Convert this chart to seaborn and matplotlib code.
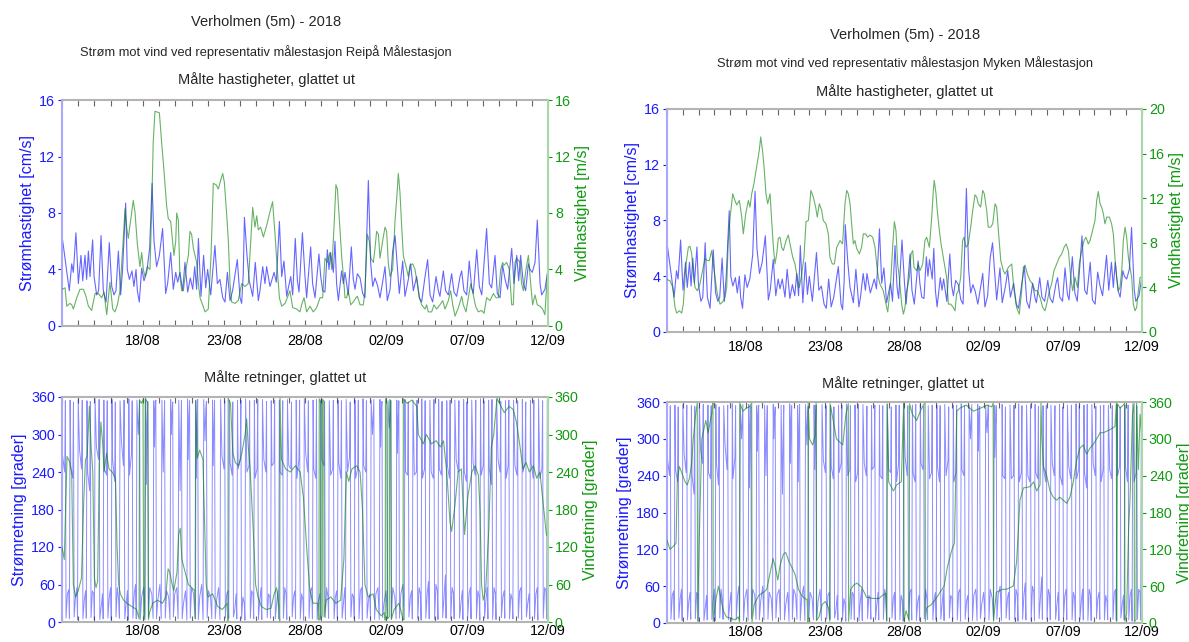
import pandas as pd
import matplotlib
matplotlib.use("Agg")
import matplotlib.pyplot as plt
import matplotlib.dates as mdates
import seaborn as sns

sns.set_theme(style="white")
plt.rcParams['font.family'] = ['Liberation Sans', 'DejaVu Sans']

START = pd.Timestamp("2018-08-13")
END = pd.Timestamp("2018-09-12")
tick_dates = pd.to_datetime(["2018-08-18", "2018-08-23", "2018-08-28",
                             "2018-09-02", "2018-09-07", "2018-09-12"])

# current speed at Verholmen 5m (same in both panels), days since 13/08
cur_speed_day = [
    0.00, 0.45, 0.60, 0.70, 0.86, 1.01, 1.17, 1.28, 1.42, 1.52, 1.63, 1.73, 1.89, 1.98, 2.14, 2.26, 2.41, 2.55, 2.72, 2.92,
    3.07, 3.21, 3.33, 3.48, 3.62, 3.74, 3.93, 4.03, 4.16, 4.32, 4.44, 4.57, 4.65, 4.77, 4.92, 5.06, 5.23, 5.41, 5.56, 5.68,
    5.84, 6.01, 6.21, 6.40, 6.52, 6.71, 6.87, 7.02, 7.14, 7.28, 7.45, 7.59, 7.76, 7.92, 8.07, 8.19, 8.31, 8.42, 8.58, 8.74,
    8.87, 8.99, 9.18, 9.44, 9.59, 9.75, 9.92, 10.06, 10.21, 10.37, 10.53, 10.82, 10.99, 11.09, 11.19, 11.26, 11.42, 11.56, 11.77, 11.93,
    12.12, 12.22, 12.39, 12.53, 12.63, 12.84, 13.09, 13.23, 13.42, 13.56, 13.70, 13.87, 13.99, 14.12, 14.24, 14.40, 14.53, 14.63, 14.84, 15.00,
    15.10, 15.35, 15.47, 15.62, 15.86, 15.97, 16.09, 16.23, 16.38, 16.48, 16.58, 16.75, 16.85, 16.95, 17.06, 17.26, 17.37, 17.47, 17.67, 17.86,
    17.98, 18.09, 18.23, 18.40, 18.56, 18.70, 18.91, 19.05, 19.18, 19.32, 19.47, 19.63, 19.79, 19.94, 20.08, 20.25, 20.41, 20.56, 20.70, 20.82,
    21.03, 21.17, 21.38, 21.52, 21.69, 21.89, 22.06, 22.20, 22.41, 22.57, 22.72, 22.88, 23.09, 23.23, 23.33, 23.54, 23.68, 23.85, 24.05, 24.20,
    24.36, 24.57, 24.67, 24.81, 24.98, 25.14, 25.29, 25.39, 25.60, 25.76, 25.91, 26.21, 26.38, 26.52, 26.73, 26.87, 27.04, 27.20, 27.35, 27.51,
    27.76, 27.90, 28.07, 28.19, 28.31, 28.48, 28.62, 28.79, 28.89, 29.03, 29.20, 29.34, 29.51, 29.61, 29.81, 30.00]
cur_speed = [
    6.4, 2.5, 4.4, 3.8, 6.6, 3.0, 5.0, 3.2, 5.0, 3.3, 5.3, 3.5, 6.1, 3.5, 2.2, 2.5, 6.4, 2.5, 1.7, 5.9,
    2.8, 2.2, 2.5, 5.3, 2.2, 4.0, 8.7, 4.0, 3.3, 3.9, 2.8, 4.0, 2.5, 1.7, 4.1, 3.2, 3.8, 5.5, 10.1, 6.0,
    4.2, 5.0, 6.9, 2.3, 3.0, 5.2, 2.6, 3.8, 3.1, 3.8, 2.5, 4.5, 2.4, 3.4, 2.6, 4.2, 2.6, 6.2, 2.1, 5.0,
    2.7, 4.0, 2.2, 5.7, 3.0, 3.3, 2.0, 1.7, 3.8, 1.8, 2.5, 4.7, 2.0, 1.6, 3.7, 7.7, 5.0, 3.2, 2.1, 4.5,
    1.8, 2.5, 4.2, 3.0, 4.2, 2.8, 3.8, 3.1, 7.4, 3.5, 4.6, 2.1, 2.8, 3.5, 2.2, 6.2, 3.2, 2.4, 6.6, 3.5,
    2.0, 5.6, 3.0, 2.0, 5.1, 3.5, 2.5, 2.4, 5.4, 4.0, 5.2, 3.8, 6.0, 3.0, 1.8, 3.9, 3.0, 3.8, 2.2, 5.6,
    3.3, 2.6, 3.7, 3.4, 2.3, 2.0, 10.3, 4.5, 2.8, 3.4, 2.9, 2.0, 3.1, 4.2, 1.8, 2.6, 5.3, 6.4, 4.2, 2.3,
    4.6, 2.1, 3.3, 4.4, 2.5, 3.5, 2.0, 1.7, 3.5, 4.7, 2.2, 1.7, 3.5, 2.5, 2.1, 3.9, 2.5, 2.2, 3.7, 2.4,
    2.1, 3.5, 3.9, 2.5, 2.2, 4.6, 2.7, 2.3, 5.4, 2.8, 2.2, 6.9, 3.0, 2.7, 5.0, 2.3, 2.0, 4.3, 3.3, 2.6,
    5.5, 3.0, 5.0, 3.2, 5.0, 3.0, 2.5, 4.4, 4.0, 3.8, 4.5, 7.5, 3.0, 2.2, 2.6, 4.0]

# wind speed, Reipå
reipa_speed_day = [
    0.00, 0.19, 0.29, 0.49, 0.60, 0.70, 0.91, 1.11, 1.32, 1.48, 1.63, 1.83, 2.04, 2.24, 2.45, 2.59, 2.76, 2.96, 3.13, 3.27,
    3.42, 3.58, 3.79, 3.89, 3.99, 4.09, 4.24, 4.40, 4.51, 4.65, 4.81, 4.92, 5.02, 5.12, 5.27, 5.43, 5.53, 5.63, 5.74, 6.01,
    6.15, 6.26, 6.36, 6.46, 6.56, 6.71, 6.83, 6.91, 7.02, 7.08, 7.18, 7.28, 7.39, 7.49, 7.65, 7.80, 7.90, 8.00, 8.11, 8.31,
    8.42, 8.52, 8.68, 8.83, 9.03, 9.20, 9.34, 9.51, 9.65, 9.79, 9.92, 10.02, 10.16, 10.27, 10.37, 10.47, 10.68, 10.88, 11.09, 11.30,
    11.50, 11.65, 11.77, 11.91, 12.02, 12.12, 12.26, 12.43, 12.63, 12.84, 13.00, 13.15, 13.29, 13.42, 13.56, 13.77, 13.91, 14.07, 14.24, 14.49,
    14.69, 14.79, 14.94, 15.10, 15.31, 15.51, 15.72, 15.93, 16.09, 16.23, 16.38, 16.54, 16.65, 16.79, 16.91, 17.00, 17.12, 17.26, 17.37, 17.47,
    17.57, 17.67, 17.82, 17.98, 18.15, 18.23, 18.40, 18.60, 18.70, 18.85, 18.97, 19.07, 19.22, 19.32, 19.42, 19.53, 19.63, 19.79, 19.94, 20.04,
    20.14, 20.25, 20.41, 20.56, 20.66, 20.76, 20.86, 20.97, 21.07, 21.17, 21.28, 21.38, 21.48, 21.65, 21.79, 21.93, 22.06, 22.20, 22.41, 22.51,
    22.61, 22.82, 22.96, 23.13, 23.33, 23.50, 23.64, 23.85, 23.99, 24.12, 24.26, 24.47, 24.67, 24.77, 24.94, 25.08, 25.23, 25.39, 25.53, 25.70,
    25.90, 26.05, 26.21, 26.42, 26.63, 26.79, 26.93, 27.08, 27.20, 27.28, 27.45, 27.61, 27.76, 27.86, 27.96, 28.07, 28.27, 28.37, 28.48, 28.64,
    28.79, 28.93, 29.05, 29.20, 29.34, 29.51, 29.67, 29.81, 29.96]
reipa_speed = [
    2.6, 2.7, 1.4, 1.6, 1.5, 1.2, 2.0, 2.6, 2.6, 2.1, 1.4, 1.1, 2.3, 2.3, 2.0, 2.4, 0.8, 3.1, 1.2, 1.0,
    1.5, 2.5, 6.3, 8.3, 7.0, 6.2, 7.5, 8.9, 8.0, 5.8, 4.2, 5.2, 4.0, 3.5, 4.2, 4.0, 8.0, 13.0, 15.2, 15.1,
    13.0, 11.5, 10.0, 8.5, 7.6, 7.4, 6.0, 5.0, 6.0, 8.0, 7.5, 3.5, 2.5, 2.5, 4.0, 5.0, 6.7, 6.5, 5.5, 4.5,
    3.0, 2.0, 1.5, 1.0, 1.2, 5.0, 10.1, 10.0, 9.7, 10.3, 10.8, 10.2, 8.0, 6.0, 3.0, 1.7, 1.6, 1.8, 3.0, 2.8,
    3.0, 6.0, 8.4, 7.0, 7.8, 6.8, 7.0, 6.3, 7.1, 8.1, 8.8, 6.5, 4.0, 2.0, 1.4, 1.6, 2.0, 2.5, 1.3, 1.2,
    1.0, 1.5, 2.0, 1.0, 1.4, 1.0, 1.3, 2.0, 2.0, 4.8, 4.5, 5.2, 4.0, 7.0, 10.0, 9.7, 7.5, 5.0, 3.5, 2.0,
    2.0, 2.5, 1.5, 1.7, 2.0, 2.1, 1.5, 1.5, 2.5, 6.5, 6.0, 4.8, 4.5, 5.5, 6.7, 6.5, 4.8, 6.0, 7.0, 6.7,
    4.5, 3.5, 4.0, 7.5, 9.0, 10.8, 9.5, 7.0, 5.0, 4.5, 4.0, 3.5, 4.3, 4.4, 4.0, 3.0, 2.0, 1.5, 1.2, 1.5,
    1.0, 1.0, 1.5, 1.2, 1.5, 1.8, 1.2, 1.8, 2.5, 1.5, 0.7, 1.3, 2.1, 1.5, 1.0, 2.0, 3.0, 2.2, 1.4, 1.0,
    1.1, 0.9, 2.0, 1.8, 2.3, 2.0, 2.0, 4.0, 4.5, 4.3, 4.5, 4.0, 1.5, 1.5, 4.5, 4.8, 4.5, 3.0, 2.5, 4.0,
    5.0, 3.0, 1.5, 2.2, 1.5, 1.4, 1.2, 0.8, 3.7]

# wind speed, Myken
myken_speed_day = [
    0.00, 0.19, 0.36, 0.51, 0.61, 0.78, 0.93, 1.03, 1.20, 1.35, 1.45, 1.56, 1.66, 1.77, 1.92, 2.08, 2.25, 2.40, 2.55, 2.67,
    2.82, 3.03, 3.18, 3.35, 3.52, 3.66, 3.77, 3.87, 3.98, 4.15, 4.29, 4.40, 4.57, 4.72, 4.82, 4.97, 5.14, 5.24, 5.35, 5.49,
    5.66, 5.83, 5.92, 6.04, 6.13, 6.25, 6.36, 6.51, 6.61, 6.72, 6.82, 6.93, 7.03, 7.14, 7.24, 7.35, 7.52, 7.66, 7.77, 7.94,
    8.08, 8.23, 8.36, 8.51, 8.65, 8.78, 8.93, 9.09, 9.24, 9.39, 9.49, 9.62, 9.77, 9.87, 10.04, 10.19, 10.29, 10.44, 10.57, 10.72,
    10.93, 11.09, 11.24, 11.35, 11.45, 11.56, 11.66, 11.77, 11.87, 11.98, 12.15, 12.29, 12.40, 12.55, 12.67, 12.82, 12.99, 13.14, 13.24, 13.35,
    13.45, 13.66, 13.83, 13.94, 14.04, 14.13, 14.25, 14.36, 14.46, 14.57, 14.67, 14.82, 14.93, 15.03, 15.14, 15.31, 15.41, 15.52, 15.60, 15.77,
    15.87, 15.98, 16.15, 16.29, 16.40, 16.57, 16.72, 16.82, 16.88, 16.99, 17.07, 17.20, 17.31, 17.45, 17.56, 17.66, 17.77, 17.92, 18.08, 18.19,
    18.29, 18.40, 18.55, 18.67, 18.76, 18.88, 19.03, 19.18, 19.31, 19.45, 19.56, 19.66, 19.81, 19.94, 20.04, 20.19, 20.29, 20.44, 20.57, 20.72,
    20.82, 20.93, 21.08, 21.24, 21.35, 21.56, 21.77, 21.92, 22.08, 22.25, 22.40, 22.51, 22.61, 22.76, 22.93, 23.09, 23.24, 23.39, 23.56, 23.73,
    23.87, 23.98, 24.15, 24.29, 24.44, 24.61, 24.78, 24.93, 25.08, 25.21, 25.35, 25.50, 25.62, 25.77, 25.92, 26.04, 26.19, 26.34, 26.46, 26.61,
    26.72, 26.88, 27.03, 27.14, 27.24, 27.35, 27.45, 27.56, 27.66, 27.77, 27.94, 28.08, 28.19, 28.29, 28.40, 28.51, 28.61, 28.72, 28.82, 28.93,
    29.03, 29.14, 29.24, 29.35, 29.45, 29.56, 29.66, 29.77, 29.88, 30.00]
myken_speed = [
    4.7, 4.6, 4.0, 2.2, 1.7, 1.9, 1.7, 2.5, 6.1, 7.6, 7.7, 7.0, 5.2, 4.0, 3.7, 4.3, 5.5, 6.6, 6.4, 6.4,
    7.3, 4.9, 3.4, 2.5, 2.7, 3.1, 4.0, 8.2, 10.2, 12.4, 11.8, 11.4, 11.8, 10.3, 8.8, 10.6, 11.8, 11.2, 12.4, 13.3,
    14.8, 16.3, 17.5, 16.2, 14.8, 12.4, 11.5, 12.4, 10.0, 7.6, 6.1, 7.0, 8.4, 8.5, 7.6, 7.3, 8.2, 8.7, 7.9, 6.7,
    6.1, 4.9, 4.0, 5.2, 6.7, 9.9, 10.0, 12.7, 12.1, 11.2, 10.3, 11.5, 10.9, 10.0, 9.7, 8.8, 6.7, 6.1, 6.1, 7.6,
    8.2, 7.9, 11.5, 12.7, 12.4, 11.5, 9.7, 7.9, 8.2, 7.5, 7.0, 7.6, 8.8, 8.8, 8.5, 8.7, 8.5, 7.6, 6.1, 4.9,
    4.3, 3.7, 2.5, 1.8, 3.1, 4.6, 7.6, 9.9, 9.1, 6.1, 4.9, 2.5, 1.6, 2.2, 3.7, 4.9, 7.0, 7.3, 5.8, 5.5,
    6.1, 5.5, 6.1, 8.2, 8.5, 7.6, 10.3, 12.7, 13.6, 12.4, 10.9, 9.1, 7.9, 6.7, 5.8, 4.9, 2.5, 2.5, 2.2, 1.9,
    3.4, 3.7, 4.9, 8.2, 8.5, 7.6, 7.9, 9.4, 10.9, 12.3, 12.1, 11.5, 11.2, 12.7, 12.4, 10.9, 9.4, 9.4, 9.7, 11.5,
    11.2, 9.1, 6.4, 5.5, 5.2, 5.8, 6.1, 3.7, 2.2, 1.6, 3.7, 5.8, 6.0, 5.2, 4.6, 4.3, 3.7, 3.7, 3.1, 2.2,
    1.9, 2.5, 3.7, 4.3, 5.5, 6.1, 6.7, 7.0, 7.6, 7.9, 7.3, 4.9, 3.7, 4.9, 4.0, 6.1, 7.3, 8.2, 8.5, 7.9,
    8.2, 9.1, 10.0, 11.8, 12.6, 11.5, 11.2, 10.6, 9.7, 10.3, 10.3, 9.7, 8.8, 6.7, 4.9, 3.7, 4.0, 5.5, 8.2, 9.4,
    8.5, 6.7, 5.8, 4.9, 2.5, 1.9, 2.2, 3.7, 4.9, 4.9]

# current direction (same in both panels), hours since 13/08 00:00
cur_dir_hour = [
    0,
    1, 4, 5, 6, 8, 10, 11, 12,
    13, 16, 17, 18, 20, 22, 23, 24,
    26, 29, 30, 31, 33, 35, 36, 37,
    38, 41, 42, 43, 45, 47, 48, 49,
    51, 54, 55, 56, 58, 60, 61, 62,
    63, 66, 67, 68, 70, 72, 73, 74,
    75, 78, 79, 80, 82, 84, 85, 86,
    88, 91, 92, 93, 95, 97, 98, 99,
    100, 103, 104, 105, 107, 109, 110, 111,
    113, 114, 115, 116, 118, 121, 123, 124,
    125, 126, 127, 128, 130, 133, 135, 136,
    137, 138, 139, 140, 142, 145, 147, 148,
    150, 151, 152, 153, 155, 158, 160, 161,
    162, 163, 164, 165, 167, 170, 172, 173,
    175, 176, 177, 178, 180, 183, 185, 186,
    187, 188, 189, 190, 192, 195, 197, 198,
    199, 200, 201, 202, 204, 207, 209, 210,
    212, 213, 214, 215, 217, 220, 222, 223,
    224, 225, 226, 227, 229, 232, 234, 235,
    237, 240, 241, 242, 244, 246, 247, 248,
    249, 252, 253, 254, 256, 258, 259, 260,
    261, 264, 265, 266, 268, 270, 271, 272,
    274, 277, 278, 279, 281, 283, 284, 285,
    286, 289, 290, 291, 293, 295, 296, 297,
    299, 302, 303, 304, 306, 308, 309, 310,
    311, 314, 315, 316, 318, 320, 321, 322,
    323, 326, 327, 328, 330, 332, 333, 334,
    336, 339, 340, 341, 343, 345, 346, 347,
    348, 351, 352, 353, 355, 357, 358, 359,
    361, 364, 365, 366, 368, 370, 371, 372,
    373, 376, 377, 378, 380, 382, 383, 384,
    385, 388, 389, 390, 392, 394, 395, 396,
    398, 401, 402, 403, 405, 407, 408, 409,
    410, 413, 414, 415, 417, 419, 420, 421,
    423, 426, 427, 428, 430, 432, 433, 434,
    435, 438, 439, 440, 442, 444, 445, 446,
    447, 450, 451, 452, 454, 456, 457, 458,
    460, 461, 462, 463, 465, 468, 470, 471,
    472, 473, 474, 475, 477, 480, 482, 483,
    485, 486, 487, 488, 490, 493, 495, 496,
    497, 498, 499, 500, 502, 505, 507, 508,
    509, 512, 513, 514, 516, 518, 519, 520,
    522, 525, 526, 527, 529, 531, 532, 533,
    534, 537, 538, 539, 541, 543, 544, 545,
    547, 550, 551, 552, 554, 556, 557, 558,
    559, 562, 563, 564, 566, 568, 569, 570,
    571, 574, 575, 576, 578, 580, 581, 582,
    584, 587, 588, 589, 591, 593, 594, 595,
    596, 599, 600, 601, 603, 605, 606, 607,
    609, 612, 613, 614, 616, 618, 619, 620,
    621, 624, 625, 626, 628, 630, 631, 632,
    633, 636, 637, 638, 640, 642, 643, 644,
    646, 649, 650, 651, 653, 655, 656, 657,
    658, 661, 662, 663, 665, 667, 668, 669,
    671, 674, 675, 676, 678, 680, 681, 682,
    683, 686, 687, 688, 690, 692, 693, 694,
    695, 698, 699, 700, 702, 704, 705, 706,
    708, 711, 712, 713, 715, 717, 718, 719]
cur_dir = [
    40,
    265, 240, 354, 6, 45, 52, 5, 355,
    250, 230, 352, 8, 40, 55, 4, 356,
    275, 245, 355, 5, 35, 50, 6, 354,
    240, 210, 353, 7, 50, 45, 3, 357,
    280, 260, 356, 4, 25, 45, 5, 355,
    245, 235, 354, 6, 40, 55, 4, 356,
    260, 225, 352, 8, 55, 35, 6, 354,
    290, 250, 355, 5, 30, 50, 3, 357,
    235, 270, 354, 6, 45, 60, 5, 355,
    300, 330, 356, 4, 40, 55, 4, 356,
    220, 320, 353, 7, 55, 45, 6, 354,
    280, 340, 355, 5, 35, 60, 5, 355,
    240, 310, 354, 6, 50, 40, 4, 356,
    300, 335, 352, 8, 45, 55, 5, 355,
    210, 300, 355, 5, 30, 50, 3, 357,
    260, 330, 354, 6, 55, 45, 6, 354,
    230, 320, 356, 4, 40, 60, 4, 356,
    290, 340, 353, 7, 50, 40, 5, 355,
    250, 315, 355, 5, 35, 55, 4, 356,
    265, 245, 354, 6, 45, 50, 6, 354,
    255, 235, 352, 8, 20, 45, 5, 355,
    245, 260, 355, 5, 40, 30, 3, 357,
    240, 250, 354, 6, 50, 45, 5, 355,
    230, 245, 356, 4, 35, 55, 4, 356,
    260, 240, 353, 7, 45, 40, 6, 354,
    250, 255, 355, 5, 30, 50, 5, 355,
    240, 235, 354, 6, 55, 45, 4, 356,
    250, 245, 352, 8, 40, 50, 5, 355,
    230, 260, 355, 5, 45, 35, 3, 357,
    270, 240, 354, 6, 50, 55, 5, 355,
    245, 230, 356, 4, 35, 45, 4, 356,
    260, 250, 353, 7, 55, 40, 6, 354,
    235, 245, 355, 5, 40, 50, 5, 355,
    255, 230, 354, 6, 30, 55, 4, 356,
    240, 265, 352, 8, 45, 40, 5, 355,
    230, 245, 355, 5, 50, 55, 3, 357,
    250, 240, 354, 6, 35, 45, 5, 355,
    300, 330, 356, 4, 45, 55, 4, 356,
    280, 340, 353, 7, 30, 50, 6, 354,
    310, 330, 355, 5, 55, 40, 5, 355,
    270, 320, 354, 6, 45, 60, 4, 356,
    240, 235, 352, 8, 40, 50, 5, 355,
    235, 240, 355, 5, 55, 45, 3, 357,
    230, 245, 354, 6, 45, 65, 5, 355,
    240, 230, 356, 4, 60, 50, 4, 356,
    245, 235, 353, 7, 40, 75, 6, 354,
    250, 230, 355, 5, 55, 45, 5, 355,
    260, 240, 354, 6, 30, 50, 4, 356,
    240, 225, 352, 8, 45, 55, 5, 355,
    255, 235, 355, 5, 50, 40, 3, 357,
    235, 250, 354, 6, 35, 55, 5, 355,
    245, 220, 356, 4, 55, 45, 4, 356,
    260, 240, 353, 7, 40, 50, 6, 354,
    230, 250, 355, 5, 45, 35, 5, 355,
    250, 235, 354, 6, 50, 55, 4, 356,
    240, 255, 352, 8, 30, 45, 5, 355,
    255, 230, 355, 5, 45, 55, 3, 357,
    230, 245, 354, 6, 55, 50, 5, 355]

# wind direction, Reipå (days)
reipa_dir_day = [
    0.00, 0.14, 0.31, 0.49, 0.60, 0.70, 0.84, 1.00, 1.20, 1.35, 1.45, 1.55, 1.69, 1.80, 1.90, 2.00, 2.10, 2.20, 2.30, 2.40,
    2.50, 2.60, 2.75, 2.90, 3.10, 3.30, 3.40, 3.50, 3.60, 3.80, 4.00, 4.30, 4.60, 4.76, 4.78, 4.90, 5.00, 5.04, 5.10, 5.14,
    5.30, 5.34, 5.40, 5.60, 5.90, 6.20, 6.40, 6.55, 6.65, 6.80, 6.90, 7.10, 7.20, 7.30, 7.40, 7.60, 7.80, 8.00, 8.20, 8.24,
    8.26, 8.35, 8.50, 8.70, 8.90, 9.00, 9.30, 9.60, 9.90, 10.20, 10.24, 10.26, 10.40, 10.55, 10.70, 10.90, 11.10, 11.30, 11.40, 11.50,
    11.60, 11.80, 11.95, 12.10, 12.30, 12.60, 12.90, 13.10, 13.25, 13.40, 13.44, 13.46, 13.55, 13.80, 14.10, 14.40, 14.70, 14.90, 15.10, 15.30,
    15.50, 15.80, 15.86, 15.88, 15.96, 15.98, 16.06, 16.08, 16.16, 16.18, 16.30, 16.60, 16.90, 17.20, 17.40, 17.55, 17.70, 17.90, 18.20, 18.40,
    18.55, 18.70, 18.90, 19.20, 19.40, 19.70, 19.90, 19.95, 19.97, 20.05, 20.08, 20.20, 20.23, 20.30, 20.33, 20.50, 20.80, 21.00, 21.05, 21.07,
    21.30, 21.60, 21.90, 22.00, 22.30, 22.50, 22.80, 23.10, 23.35, 23.55, 23.75, 23.85, 23.95, 24.05, 24.25, 24.45, 24.65, 24.85, 25.05, 25.30,
    25.50, 25.70, 25.80, 25.90, 26.00, 26.15, 26.35, 26.50, 26.65, 26.85, 27.00, 27.30, 27.60, 27.85, 28.05, 28.25, 28.45, 28.65, 28.85, 29.10,
    29.30, 29.50, 29.70, 29.90, 30.00]
reipa_dir = [
    120, 100, 265, 255, 235, 60, 40, 50, 70, 200, 260, 265, 345, 280, 240, 70, 55, 65, 250, 320,
    290, 240, 270, 245, 240, 230, 120, 60, 45, 35, 30, 25, 20, 5, 355, 350, 356, 3, 12, 358,
    350, 4, 15, 30, 35, 30, 40, 85, 80, 60, 50, 80, 140, 150, 100, 80, 60, 55, 50, 5,
    355, 262, 275, 260, 60, 40, 45, 25, 20, 30, 2, 358, 350, 270, 255, 250, 270, 300, 325, 280,
    250, 150, 60, 40, 25, 20, 22, 45, 55, 20, 2, 358, 260, 245, 240, 250, 240, 200, 120, 50,
    30, 30, 3, 357, 352, 6, 10, 356, 354, 8, 35, 40, 30, 35, 100, 240, 225, 245, 250, 240,
    180, 60, 40, 45, 20, 10, 15, 3, 357, 350, 5, 8, 356, 352, 4, 20, 30, 10, 3, 357,
    350, 355, 345, 300, 285, 300, 285, 290, 280, 290, 240, 200, 160, 145, 185, 240, 245, 140, 200, 240,
    250, 235, 180, 60, 35, 50, 150, 280, 300, 358, 350, 335, 345, 340, 320, 285, 245, 255, 240, 250,
    230, 240, 190, 140, 135]

# wind direction, Myken (days)
myken_dir_day = [
    0.00, 0.19, 0.40, 0.57, 0.65, 0.78, 0.93, 1.14, 1.28, 1.41, 1.56, 1.66, 1.83, 1.91, 1.93, 2.05, 2.20, 2.45, 2.60, 2.85,
    2.90, 2.92, 3.10, 3.25, 3.55, 3.75, 4.00, 4.30, 4.50, 4.58, 4.60, 4.80, 5.00, 5.20, 5.35, 5.37, 5.50, 5.80, 6.10, 6.30,
    6.50, 6.70, 6.85, 7.00, 7.15, 7.35, 7.50, 7.70, 7.90, 8.10, 8.30, 8.50, 8.70, 8.85, 8.90, 8.92, 9.00, 9.20, 9.35, 9.42,
    9.44, 9.60, 9.80, 10.00, 10.20, 10.28, 10.30, 10.50, 10.70, 10.90, 11.10, 11.30, 11.45, 11.47, 11.60, 11.80, 12.00, 12.30, 12.60, 13.00,
    13.40, 13.60, 13.80, 13.88, 13.90, 14.00, 14.30, 14.50, 14.80, 14.90, 14.95, 14.97, 15.10, 15.30, 15.32, 15.50, 15.77, 16.00, 16.19, 16.30,
    16.32, 16.40, 16.70, 17.00, 17.24, 17.50, 17.70, 17.90, 18.00, 18.15, 18.25, 18.30, 18.50, 18.90, 19.35, 19.80, 20.20, 20.50, 20.60, 20.62,
    20.80, 21.20, 21.45, 21.87, 22.08, 22.19, 22.29, 22.51, 22.93, 23.15, 23.35, 23.56, 23.62, 23.68, 23.77, 23.98, 24.19, 24.40, 24.61, 24.80,
    25.03, 25.24, 25.45, 25.66, 25.87, 26.08, 26.29, 26.50, 26.72, 26.90, 27.14, 27.35, 27.56, 27.98, 28.29, 28.38, 28.40, 28.45, 28.61, 28.82,
    28.90, 28.92, 29.03, 29.15, 29.24, 29.40, 29.50, 29.52, 29.62, 29.66, 29.77, 29.88, 30.00]
myken_dir = [
    135, 120, 125, 130, 230, 255, 245, 230, 225, 235, 260, 300, 345, 358, 3, 150, 300, 330, 310, 345,
    358, 3, 40, 60, 20, 10, 8, 5, 10, 2, 358, 345, 350, 352, 358, 2, 30, 45, 50, 55,
    80, 105, 90, 70, 95, 112, 115, 100, 90, 78, 55, 45, 40, 38, 2, 358, 300, 290, 305, 358,
    4, 10, 30, 35, 25, 3, 357, 330, 300, 295, 290, 340, 357, 3, 55, 62, 65, 58, 42, 40,
    40, 45, 48, 3, 357, 230, 215, 225, 230, 320, 358, 4, 20, 3, 357, 340, 330, 345, 355, 358,
    3, 25, 30, 40, 50, 60, 90, 110, 120, 130, 250, 345, 350, 355, 345, 350, 355, 352, 358, 3,
    50, 55, 55, 60, 100, 150, 200, 220, 222, 230, 215, 225, 358, 300, 255, 240, 215, 205, 200, 205,
    200, 195, 205, 230, 265, 285, 290, 275, 285, 290, 300, 310, 310, 315, 320, 358, 3, 357, 350, 355,
    358, 3, 15, 150, 200, 340, 358, 2, 5, 358, 250, 340, 300]

BLUE_LINE = "#0000ff"
GREEN_LINE = "#008000"
BLUE_TXT = "#1a1aff"
GREEN_TXT = "#119911"
W, H = 1189, 642


def days_to_time(days):
    return START + pd.to_timedelta(days, unit="D")


def hours_to_time(hours):
    return START + pd.to_timedelta(hours, unit="h")


def draw(ax, t, v, color, alpha=0.6, lw=0.8):
    sns.lineplot(x=t, y=v, ax=ax, color=color, linewidth=lw, alpha=alpha,
                 estimator=None, sort=False)


def style_axes(ax, ax2, ymax1, yt1, ymax2, yt2, lab1, lab2, xpad):
    ax.set_xlim(START, END)
    ax.set_ylim(0, ymax1)
    ax.set_yticks(yt1)
    ax2.set_ylim(0, ymax2)
    ax2.set_yticks(yt2)
    ax.set_xticks(tick_dates)
    ax.xaxis.set_major_formatter(mdates.DateFormatter("%d/%m"))
    ax.xaxis.set_minor_locator(mdates.DayLocator())
    ax.tick_params(axis="x", which="both", direction="in", top=True, bottom=True,
                   length=4, width=0.8, color="#666666", labelsize=10.3, pad=xpad,
                   labelcolor="black")
    ax.tick_params(axis="y", left=True, direction="out", length=3, width=0.8,
                   color=BLUE_TXT, labelcolor=BLUE_TXT, labelsize=10.3, pad=2)
    ax2.tick_params(axis="y", right=True, direction="out", length=3, width=0.8,
                    color=GREEN_TXT, labelcolor=GREEN_TXT, labelsize=10.3, pad=2)
    ax.set_xlabel("")
    ax2.set_xlabel("")
    ax.set_ylabel(lab1, color=BLUE_TXT, fontsize=11.5, labelpad=3)
    ax2.set_ylabel(lab2, color=GREEN_TXT, fontsize=11.5, labelpad=3)
    for s in ("top", "bottom"):
        ax.spines[s].set_color("#b4b4b4")
        ax.spines[s].set_linewidth(1.5)
        ax2.spines[s].set_visible(False)
    ax.spines["left"].set_color("#a8a8ff")
    ax.spines["left"].set_linewidth(1.5)
    ax.spines["right"].set_visible(False)
    ax2.spines["left"].set_visible(False)
    ax2.spines["right"].set_color("#a8d8a8")
    ax2.spines["right"].set_linewidth(1.5)


def box(x0, y0, x1, y1):
    return [x0 / W, 1 - y1 / H, (x1 - x0) / W, (y1 - y0) / H]


fig = plt.figure(figsize=(11.89, 6.42), dpi=100)

panels = [
    dict(station="Reipå", speed_t=reipa_speed_day, speed_v=reipa_speed, wmax=16,
         wticks=[0, 4, 8, 12, 16], dir_t=reipa_dir_day, dir_v=reipa_dir,
         top=box(62, 100, 548, 326), bot=box(62, 397, 548, 622),
         cx=266, ys=(22, 52, 80), cx_dir=285, y_dir=378),
    dict(station="Myken", speed_t=myken_speed_day, speed_v=myken_speed, wmax=20,
         wticks=[0, 4, 8, 12, 16, 20], dir_t=myken_dir_day, dir_v=myken_dir,
         top=box(667, 109, 1142, 332), bot=box(667, 402, 1142, 623),
         cx=905, ys=(35, 63, 92), cx_dir=903, y_dir=384),
]

for p in panels:
    # speeds
    ax = fig.add_axes(p["top"])
    ax2 = ax.twinx()
    draw(ax, days_to_time(cur_speed_day), cur_speed, BLUE_LINE)
    draw(ax2, days_to_time(p["speed_t"]), p["speed_v"], GREEN_LINE)
    style_axes(ax, ax2, 16, [0, 4, 8, 12, 16], p["wmax"], p["wticks"],
               "Strømhastighet [cm/s]", "Vindhastighet [m/s]", xpad=6)

    # directions
    bx = fig.add_axes(p["bot"])
    bx2 = bx.twinx()
    draw(bx, hours_to_time(cur_dir_hour), cur_dir, BLUE_LINE, alpha=0.45, lw=0.7)
    draw(bx2, days_to_time(p["dir_t"]), p["dir_v"], GREEN_LINE, alpha=0.6, lw=0.8)
    dticks = [0, 60, 120, 180, 240, 300, 360]
    style_axes(bx, bx2, 360, dticks, 360, dticks,
               "Strømretning [grader]", "Vindretning [grader]", xpad=1.5)

    # titles
    fig.text(p["cx"] / W, 1 - p["ys"][0] / H, "Verholmen (5m) - 2018",
             ha="center", va="center", fontsize=10.5)
    fig.text(p["cx"] / W, 1 - p["ys"][1] / H,
             "Strøm mot vind ved representativ målestasjon " + p["station"] + " Målestasjon",
             ha="center", va="center", fontsize=9.3)
    fig.text(p["cx"] / W, 1 - p["ys"][2] / H, "Målte hastigheter, glattet ut",
             ha="center", va="center", fontsize=10.5)
    fig.text(p["cx_dir"] / W, 1 - p["y_dir"] / H, "Målte retninger, glattet ut",
             ha="center", va="center", fontsize=10.5)

fig.savefig("out.png", dpi=100)
